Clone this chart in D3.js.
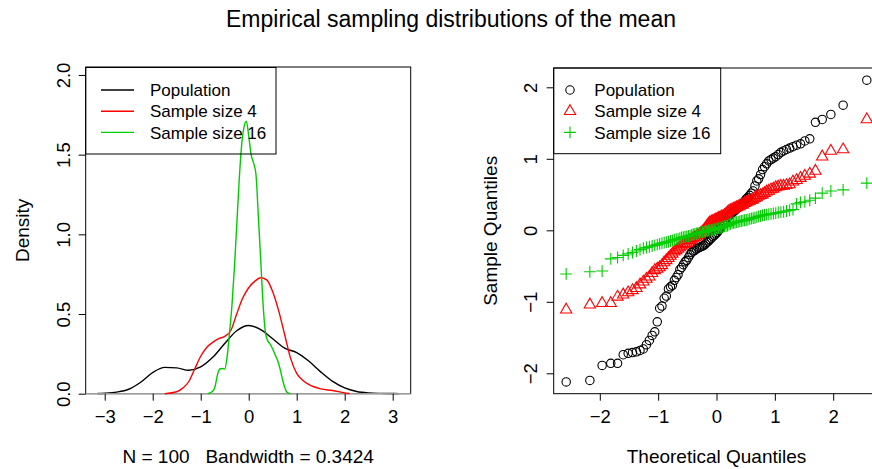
<!DOCTYPE html>
<html>
<head>
<meta charset="utf-8">
<script src="https://cdn.jsdelivr.net/npm/d3@7"></script>
<style>
  body { margin: 0; background: #fff; }
  svg { display: block; font-family: "Liberation Sans", Arial, Helvetica, sans-serif; }
</style>
</head>
<body>
<script>
// ---- data ----
var legendLabels = ["Population", "Sample size 4", "Sample size 16"];
var seriesColors = ["#000000", "#FF0000", "#00CD00"];

// kernel density curves (x, density)
var popDensX = [-3.15,-3.0,-2.75,-2.5,-2.25,-2.0,-1.75,-1.5,-1.25,-1.0,-0.75,-0.5,-0.25,0,0.25,0.5,0.75,1.0,1.25,1.5,1.75,2.0,2.25,2.5,2.75,3.0,3.13];
var popDensY = [0.001,0.003,0.010,0.028,0.072,0.133,0.165,0.162,0.147,0.168,0.228,0.315,0.395,0.428,0.402,0.345,0.286,0.258,0.205,0.137,0.077,0.036,0.014,0.005,0.002,0.001,0.0005];

var s4DensX = [-1.75,-1.5,-1.375,-1.25,-1.125,-1.0,-0.875,-0.75,-0.625,-0.5,-0.375,-0.25,-0.125,0,0.125,0.25,0.375,0.5,0.625,0.75,0.875,1.0,1.125,1.25,1.5,1.75,2.0,2.1];
var s4DensY = [0.0,0.012,0.035,0.075,0.155,0.235,0.29,0.322,0.345,0.36,0.395,0.50,0.60,0.665,0.705,0.728,0.714,0.64,0.52,0.37,0.22,0.128,0.085,0.058,0.03,0.02,0.005,0.001];

var s16DensX = [-0.85,-0.75,-0.7,-0.65,-0.6,-0.55,-0.5,-0.45,-0.4,-0.35,-0.3,-0.25,-0.2,-0.15,-0.1,-0.05,0.0,0.05,0.1,0.15,0.2,0.25,0.3,0.35,0.4,0.45,0.5,0.55,0.6,0.65,0.7,0.75,0.8,0.87];
var s16DensY = [0.0,0.015,0.045,0.12,0.155,0.158,0.155,0.23,0.38,0.55,0.78,1.05,1.33,1.55,1.67,1.71,1.62,1.50,1.45,1.38,1.12,0.84,0.56,0.38,0.33,0.31,0.28,0.245,0.21,0.16,0.095,0.04,0.008,0.0];

// sorted sample values (100 each) for the normal QQ plot
var popSorted = [-2.12,-2.10,-1.89,-1.86,-1.86,-1.74,-1.72,-1.71,-1.70,-1.68,
  -1.66,-1.60,-1.54,-1.47,-1.42,-1.28,-1.09,-1.06,-0.95,-0.92,
  -0.82,-0.79,-0.77,-0.70,-0.66,-0.62,-0.55,-0.52,-0.48,-0.44,
  -0.42,-0.38,-0.34,-0.31,-0.29,-0.28,-0.26,-0.25,-0.24,-0.23,
  -0.22,-0.21,-0.19,-0.17,-0.15,-0.13,-0.11,-0.09,-0.07,-0.05,
  -0.03,0.00,0.03,0.06,0.09,0.12,0.15,0.18,0.20,0.22,
  0.24,0.26,0.28,0.30,0.32,0.34,0.36,0.38,0.41,0.44,
  0.46,0.49,0.52,0.55,0.62,0.69,0.72,0.78,0.85,0.89,
  0.93,0.97,0.99,1.01,1.03,1.06,1.09,1.11,1.13,1.15,
  1.17,1.19,1.21,1.25,1.28,1.51,1.55,1.62,1.75,2.10];

var s4Sorted = [-1.11,-1.04,-1.02,-1.02,-0.93,-0.90,-0.87,-0.84,-0.81,-0.76,
  -0.72,-0.68,-0.65,-0.60,-0.56,-0.54,-0.52,-0.49,-0.45,-0.42,
  -0.39,-0.36,-0.33,-0.30,-0.28,-0.26,-0.24,-0.22,-0.20,-0.19,
  -0.18,-0.16,-0.14,-0.13,-0.11,-0.10,-0.09,-0.07,-0.06,-0.04,
  -0.02,0.00,0.03,0.06,0.09,0.11,0.12,0.13,0.14,0.15,
  0.16,0.17,0.18,0.19,0.20,0.21,0.23,0.25,0.27,0.28,
  0.29,0.30,0.31,0.32,0.33,0.34,0.35,0.36,0.38,0.39,
  0.40,0.41,0.42,0.43,0.45,0.46,0.48,0.49,0.50,0.52,
  0.54,0.55,0.57,0.58,0.60,0.61,0.62,0.62,0.63,0.64,
  0.68,0.70,0.73,0.76,0.79,0.83,1.03,1.11,1.13,1.55];

var s16Sorted = [-0.61,-0.58,-0.57,-0.40,-0.38,-0.35,-0.33,-0.31,-0.29,-0.27,
  -0.25,-0.24,-0.23,-0.22,-0.21,-0.20,-0.19,-0.18,-0.17,-0.165,
  -0.16,-0.15,-0.14,-0.13,-0.125,-0.12,-0.11,-0.10,-0.095,-0.09,
  -0.085,-0.08,-0.075,-0.065,-0.055,-0.05,-0.045,-0.04,-0.035,-0.03,
  -0.025,-0.02,-0.015,-0.01,-0.005,0.0,0.005,0.01,0.015,0.02,
  0.025,0.03,0.035,0.04,0.05,0.055,0.06,0.065,0.08,0.09,
  0.10,0.105,0.11,0.115,0.12,0.125,0.13,0.135,0.14,0.145,
  0.15,0.16,0.165,0.17,0.175,0.185,0.195,0.20,0.21,0.215,
  0.22,0.225,0.23,0.235,0.24,0.25,0.255,0.26,0.27,0.28,
  0.29,0.37,0.39,0.40,0.42,0.45,0.52,0.55,0.565,0.66];

var densXTicks = [-3,-2,-1,0,1,2,3];
var densYTicks = [0,0.5,1,1.5,2];
var qqXTicks = [-2,-1,0,1,2];
var qqYTicks = [-2,-1,0,1,2];

var mainTitle = "Empirical sampling distributions of the mean";
var densXLab = "N = 100   Bandwidth = 0.3424";
var densYLab = "Density";
var qqXLab = "Theoretical Quantiles";
var qqYLab = "Sample Quantiles";

// inverse normal cdf (Acklam), used for qqnorm positions
function qnorm(p) {
  var a = [-3.969683028665376e+01, 2.209460984245205e+02, -2.759285104469687e+02, 1.383577518672690e+02, -3.066479806614716e+01, 2.506628277459239e+00];
  var b = [-5.447609879822406e+01, 1.615858368580409e+02, -1.556989798598866e+02, 6.680131188771972e+01, -1.328068155288572e+01];
  var c = [-7.784894002430293e-03, -3.223964580411365e-01, -2.400758277161838e+00, -2.549732539343734e+00, 4.374664141464968e+00, 2.938163982698783e+00];
  var d = [7.784695709041462e-03, 3.224671290700398e-01, 2.445134137142996e+00, 3.754408661907416e+00];
  var q, r;
  if (p < 0.02425) {
    q = Math.sqrt(-2 * Math.log(p));
    return (((((c[0]*q+c[1])*q+c[2])*q+c[3])*q+c[4])*q+c[5]) / ((((d[0]*q+d[1])*q+d[2])*q+d[3])*q+1);
  }
  if (p > 1 - 0.02425) {
    q = Math.sqrt(-2 * Math.log(1 - p));
    return -(((((c[0]*q+c[1])*q+c[2])*q+c[3])*q+c[4])*q+c[5]) / ((((d[0]*q+d[1])*q+d[2])*q+d[3])*q+1);
  }
  q = p - 0.5; r = q * q;
  return (((((a[0]*r+a[1])*r+a[2])*r+a[3])*r+a[4])*r+a[5])*q / (((((b[0]*r+b[1])*r+b[2])*r+b[3])*r+b[4])*r+1);
}

var W = 872, H = 469;
var svg = d3.select("body").append("svg").attr("width", W).attr("height", H);
svg.append("rect").attr("width", W).attr("height", H).attr("fill", "#fff");

svg.append("text")
  .attr("x", 451).attr("y", 27)
  .attr("text-anchor", "middle")
  .style("font-size", "23px")
  .text(mainTitle);

var fsTick = "18.5px";   // tick labels
var fsLab = "19px";      // axis titles
var fsLeg = "17px";      // legend text

function styleAxis(g) {
  g.select(".domain").remove();
  g.selectAll(".tick line").attr("stroke", "#000").attr("stroke-width", 1);
  g.selectAll(".tick text").attr("fill", "#000").style("font-size", fsTick).attr("font-family", null);
}

function rotateYLabels(g, off) {
  g.selectAll(".tick text")
    .attr("x", null).attr("dy", null)
    .attr("text-anchor", "middle")
    .attr("transform", "translate(" + (-off) + ",0) rotate(-90)");
}

//////////////// left panel: densities
var xD = d3.scaleLinear().domain([-3.396, 3.375]).range([85.7, 410.7]);
var yD = d3.scaleLinear().domain([0, 2.05]).range([393.7, 67.0]);

var left = svg.append("g");

left.append("rect")
  .attr("x", xD.range()[0]).attr("y", yD.range()[1])
  .attr("width", xD.range()[1] - xD.range()[0])
  .attr("height", yD.range()[0] - yD.range()[1])
  .attr("fill", "none").attr("stroke", "#000").attr("stroke-width", 1);

var densLine = d3.line()
  .x(function(d) { return xD(d[0]); })
  .y(function(d) { return yD(d[1]); })
  .curve(d3.curveMonotoneX);

left.append("path")
  .attr("d", densLine(d3.zip(popDensX, popDensY)))
  .attr("fill", "none").attr("stroke", seriesColors[0]).attr("stroke-width", 1.4);

// zero line (abline h = 0, gray)
left.append("line")
  .attr("x1", xD.range()[0]).attr("x2", xD.range()[1])
  .attr("y1", yD(0)).attr("y2", yD(0))
  .attr("stroke", "#999").attr("stroke-width", 1.2);

left.append("path")
  .attr("d", densLine(d3.zip(s4DensX, s4DensY)))
  .attr("fill", "none").attr("stroke", seriesColors[1]).attr("stroke-width", 1.4);
left.append("path")
  .attr("d", densLine(d3.zip(s16DensX, s16DensY)))
  .attr("fill", "none").attr("stroke", seriesColors[2]).attr("stroke-width", 1.4);

left.append("g")
  .attr("transform", "translate(0," + yD.range()[0] + ")")
  .call(d3.axisBottom(xD).tickValues(densXTicks).tickSize(7).tickFormat(d3.format("d")))
  .call(styleAxis)
  .call(function(g) { g.selectAll(".tick text").attr("y", 29.8).attr("dy", 0); });

left.append("g")
  .attr("transform", "translate(" + xD.range()[0] + ",0)")
  .call(d3.axisLeft(yD).tickValues(densYTicks).tickSize(7).tickFormat(d3.format(".1f")))
  .call(styleAxis)
  .call(rotateYLabels, 15.7);

left.append("text")
  .attr("x", 248.2).attr("y", 463)
  .attr("text-anchor", "middle")
  .style("font-size", fsLab).style("white-space", "pre")
  .text(densXLab);

left.append("text")
  .attr("transform", "translate(28.5," + ((yD.range()[0] + yD.range()[1]) / 2) + ") rotate(-90)")
  .attr("text-anchor", "middle")
  .style("font-size", fsLab)
  .text(densYLab);

// legend (lines)
var legL = left.append("g");
legL.append("rect")
  .attr("x", 85.7).attr("y", 67.5).attr("width", 276 - 85.7).attr("height", 154 - 67.5)
  .attr("fill", "none").attr("stroke", "#000").attr("stroke-width", 1);
legendLabels.forEach(function(lab, i) {
  var yy = 90 + i * 21.2;
  legL.append("line").attr("x1", 101).attr("x2", 134).attr("y1", yy).attr("y2", yy)
    .attr("stroke", seriesColors[i]).attr("stroke-width", 1.4);
  legL.append("text").attr("x", 150).attr("y", yy).attr("dy", "0.36em")
    .style("font-size", fsLeg).text(lab);
});

//////////////// right panel: normal QQ plot
var xQ = d3.scaleLinear().domain([-2.79, 2.79]).range([553.7, 879.3]);
var yQ = d3.scaleLinear().domain([-2.285, 2.27]).range([393.7, 68]);

var right = svg.append("g");

right.append("rect")
  .attr("x", xQ.range()[0]).attr("y", yQ.range()[1])
  .attr("width", xQ.range()[1] - xQ.range()[0])
  .attr("height", yQ.range()[0] - yQ.range()[1])
  .attr("fill", "none").attr("stroke", "#000").attr("stroke-width", 1);

var r0 = 4.2;
var symPaths = [
  null,
  "M0," + (-1.555 * r0) + "L" + (1.347 * r0) + "," + (0.777 * r0) + "L" + (-1.347 * r0) + "," + (0.777 * r0) + "Z",
  "M" + (-1.414 * r0) + ",0H" + (1.414 * r0) + "M0," + (-1.414 * r0) + "V" + (1.414 * r0)
];

function drawSymbol(g, k, x, y) {
  if (k === 0) {
    g.append("circle").attr("cx", x).attr("cy", y).attr("r", r0)
      .attr("fill", "none").attr("stroke", seriesColors[0]).attr("stroke-width", 1.1);
  } else {
    g.append("path").attr("transform", "translate(" + x + "," + y + ")")
      .attr("d", symPaths[k])
      .attr("fill", "none").attr("stroke", seriesColors[k]).attr("stroke-width", 1.1);
  }
}

var pts = right.append("g");
[popSorted, s4Sorted, s16Sorted].forEach(function(arr, k) {
  var n = arr.length;
  arr.forEach(function(v, i) {
    var q = qnorm((i + 1 - 0.5) / n);
    drawSymbol(pts, k, xQ(q), yQ(v));
  });
});

right.append("g")
  .attr("transform", "translate(0," + yQ.range()[0] + ")")
  .call(d3.axisBottom(xQ).tickValues(qqXTicks).tickSize(7).tickFormat(d3.format("d")))
  .call(styleAxis)
  .call(function(g) { g.selectAll(".tick text").attr("y", 29.8).attr("dy", 0); });

right.append("g")
  .attr("transform", "translate(" + xQ.range()[0] + ",0)")
  .call(d3.axisLeft(yQ).tickValues(qqYTicks).tickSize(7).tickFormat(d3.format("d")))
  .call(styleAxis)
  .call(rotateYLabels, 16.7);

right.append("text")
  .attr("x", xQ(0)).attr("y", 463)
  .attr("text-anchor", "middle")
  .style("font-size", fsLab)
  .text(qqXLab);

right.append("text")
  .attr("transform", "translate(496.5," + ((yQ.range()[0] + yQ.range()[1]) / 2) + ") rotate(-90)")
  .attr("text-anchor", "middle")
  .style("font-size", fsLab)
  .text(qqYLab);

// legend (symbols)
var legR = right.append("g");
legR.append("rect")
  .attr("x", 553.7).attr("y", 68).attr("width", 720.7 - 553.7).attr("height", 153.7 - 68)
  .attr("fill", "none").attr("stroke", "#000").attr("stroke-width", 1);
legendLabels.forEach(function(lab, i) {
  var yy = 90 + i * 21.2;
  drawSymbol(legR, i, 570, yy);
  legR.append("text").attr("x", 594.3).attr("y", yy).attr("dy", "0.36em")
    .style("font-size", fsLeg).text(lab);
});
</script>
</body>
</html>
